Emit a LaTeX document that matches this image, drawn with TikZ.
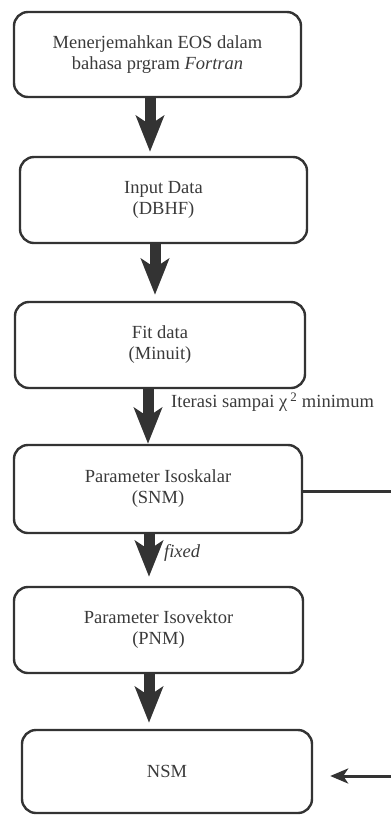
\documentclass[tikz,border=0pt]{standalone}
\usepackage{fontspec}
\setmainfont{Liberation Serif}
\usetikzlibrary{arrows.meta}
\definecolor{ink}{HTML}{333333}
\definecolor{txt}{HTML}{3A3A3A}
\tikzset{
  stepbox/.style={draw=ink, line width=2.4pt, rounded corners=14pt, inner sep=0pt,
    align=center, text=txt, font=\fontsize{18.5}{21}\selectfont},
  bigarrow/.style={draw=ink, line width=11pt,
    -{Stealth[length=36pt,width=28pt,inset=9pt]}},
  thinarrow/.style={draw=ink, line width=3pt,
    -{Stealth[length=18pt,width=15pt,inset=5pt]}},
  plainline/.style={draw=ink, line width=3pt},
  lbl/.style={text=txt, font=\fontsize{18.5}{21}\selectfont, inner sep=0pt, anchor=west}
}
\begin{document}
\begin{tikzpicture}[x=1pt,y=-1pt]
\useasboundingbox (0,0) rectangle (391,815);
\node[stepbox, minimum width=287pt, minimum height=85pt] (b1) at (157.5,54.5)
  {Menerjemahkan EOS dalam\\bahasa prgram \textit{Fortran}};
\node[stepbox, minimum width=287pt, minimum height=86pt] (b2) at (163.5,200)
  {Input Data\\(DBHF)};
\node[stepbox, minimum width=290pt, minimum height=86pt] (b3) at (160,345)
  {Fit data\\(Minuit)};
\node[stepbox, minimum width=288pt, minimum height=88pt] (b4) at (158,489)
  {Parameter Isoskalar\\(SNM)};
\node[stepbox, minimum width=289pt, minimum height=86pt] (b5) at (158.5,630)
  {Parameter Isovektor\\(PNM)};
\node[stepbox, minimum width=290pt, minimum height=83pt] (b6) at (167,771.5)
  {NSM};
% vertical arrows
\coordinate (a1) at ([xshift=-7.5pt]b1.south);
\draw[bigarrow, shorten >=4pt] (a1) -- (a1 |- b2.north);
\coordinate (a2) at ([xshift=-8.5pt]b2.south);
\draw[bigarrow, shorten >=6pt] (a2) -- (a2 |- b3.north);
\coordinate (a3) at ([xshift=-12pt]b3.south);
\draw[bigarrow] (a3) -- (a3 |- b4.north);
\coordinate (a4) at ([xshift=-9pt]b4.south);
\draw[bigarrow, shorten >=9pt] (a4) -- (a4 |- b5.north);
\coordinate (a5) at ([xshift=-9.5pt]b5.south);
\draw[bigarrow, shorten >=6pt] (a5) -- (a5 |- b6.north);
% labels
\node[lbl] (l1) at (171,402) {Iterasi sampai  χ\,\textsuperscript{2} minimum};
\node[lbl] (l2) at (164,553) {\textit{fixed}};
% side connectors
\coordinate (r4) at (391,491);
\draw[plainline] (b4.east |- r4) -- (r4);
\coordinate (r6) at (391,776);
\draw[thinarrow, shorten >=17pt] (r6) -- (b6.east |- r6);
\end{tikzpicture}
\end{document}
